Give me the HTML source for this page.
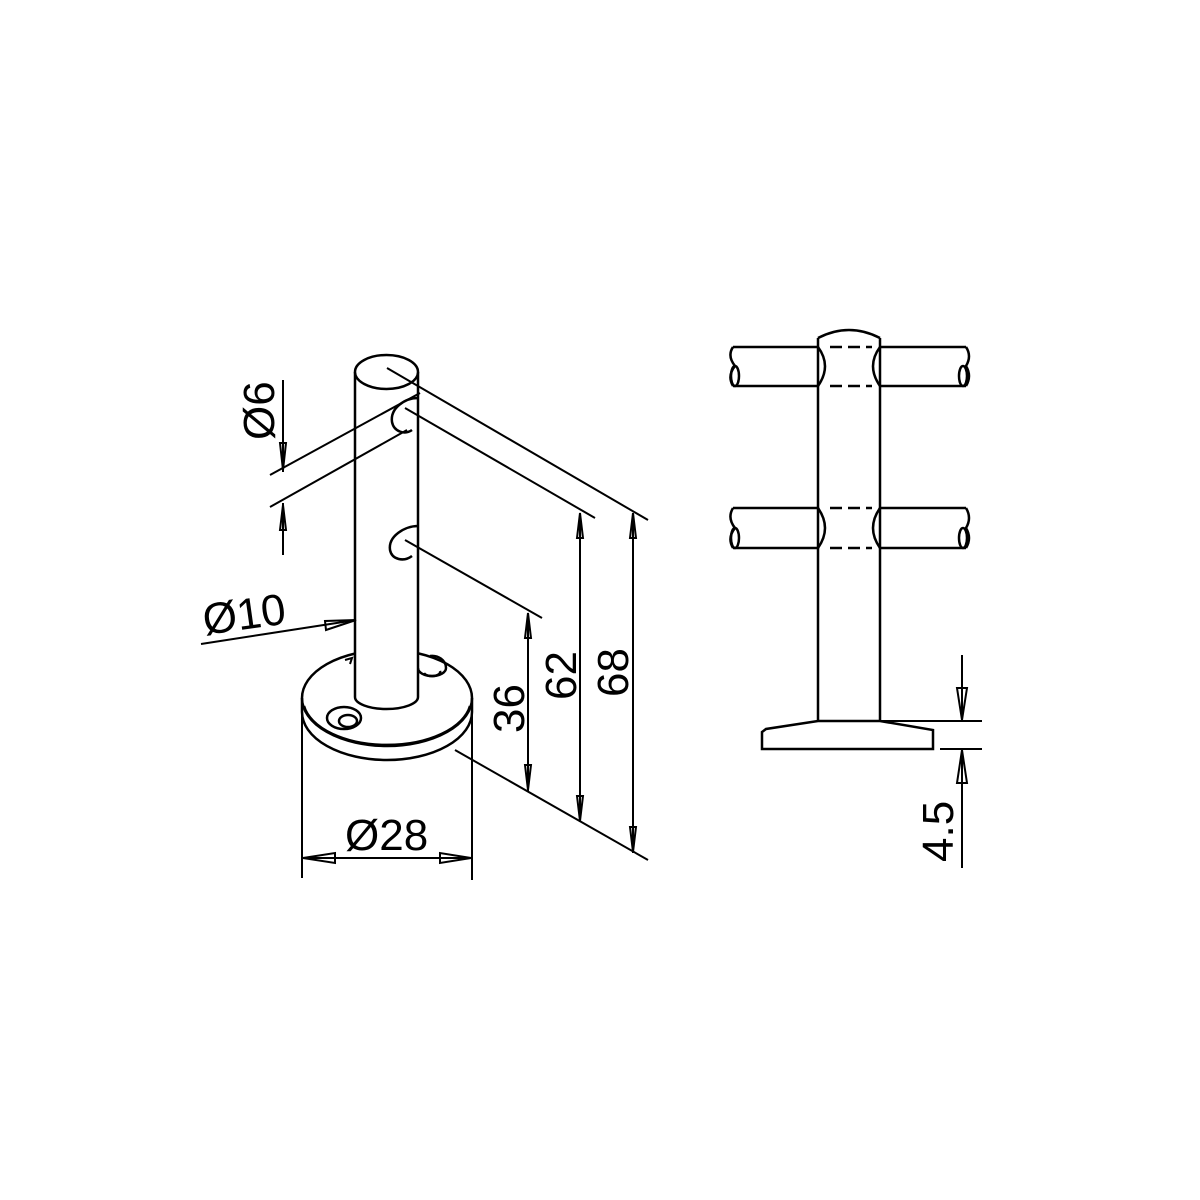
<!DOCTYPE html>
<html><head><style>html,body{margin:0;padding:0;background:#fff}svg{display:block}</style></head>
<body>
<svg width="1200" height="1200" viewBox="0 0 1200 1200" xmlns="http://www.w3.org/2000/svg">
<g fill="none" stroke="#000" stroke-width="2">
<!-- base -->
<g stroke-width="2.5">
<ellipse cx="387" cy="698" rx="85" ry="48" fill="#fff"/>
<path d="M302 698 L302 712 A85 48 0 0 0 472 712 L472 698"/>
<path d="M304 706 A84 46 0 0 0 470 706"/>
<ellipse cx="344" cy="718" rx="17" ry="11"/>
<ellipse cx="348" cy="721" rx="9" ry="6"/>
<path d="M418 668 A14 8 0 0 0 446 668 C446 660 438 655 430 656"/>
<path d="M424 673 A8 4 0 0 0 440 671"/>
</g>
<path d="M345 660 L352 658 L350 664"/>
<!-- post -->
<g stroke-width="2.5">
<path d="M355 372 L355 697 A31.5 12 0 0 0 418 697 L418 372 Z" fill="#fff" stroke="none"/>
<line x1="355" y1="372" x2="355" y2="697"/>
<line x1="418" y1="372" x2="418" y2="697"/>
<ellipse cx="386.5" cy="372" rx="31.5" ry="17" fill="#fff"/>
<path d="M355 697 A31.5 12 0 0 0 418 697"/>
<path d="M418 398 C405 398 390 408 392 422 C394 432 405 435 412 430"/>
<path d="M418 526 C405 526 388 536 390 550 C392 560 404 562 412 556"/>
</g>
<!-- extension lines -->
<line x1="387" y1="368" x2="648" y2="520"/>
<line x1="405" y1="408" x2="595" y2="518"/>
<line x1="405" y1="540" x2="542" y2="618"/>
<line x1="455" y1="750" x2="648" y2="860"/>
<line x1="270" y1="475" x2="420" y2="393"/>
<line x1="270" y1="507" x2="407" y2="430"/>
<!-- Ø6 -->
<line x1="283" y1="380" x2="283" y2="472"/>
<line x1="283" y1="503" x2="283" y2="555"/>
<path d="M280 443 L286 443 L283 470 Z"/>
<path d="M280 530 L286 530 L283 505 Z"/>
<!-- Ø10 -->
<line x1="201" y1="644" x2="356" y2="620"/>
<path d="M325 621 L326 630 L356 620 Z"/>
<!-- Ø28 -->
<line x1="302" y1="712" x2="302" y2="878"/>
<line x1="472" y1="712" x2="472" y2="880"/>
<line x1="302" y1="858" x2="472" y2="858"/>
<path d="M303 858 L335 853 L335 863 Z"/>
<path d="M471 858 L440 853 L440 863 Z"/>
<!-- 36/62/68 -->
<line x1="528" y1="613" x2="528" y2="792"/>
<line x1="580" y1="513" x2="580" y2="822"/>
<line x1="633" y1="513" x2="633" y2="853"/>
<path d="M528 613 L525 638 L531 638 Z"/>
<path d="M528 790 L525 765 L531 765 Z"/>
<path d="M580 513 L577 538 L583 538 Z"/>
<path d="M580 821 L577 796 L583 796 Z"/>
<path d="M633 513 L630 538 L636 538 Z"/>
<path d="M633 852 L630 827 L636 827 Z"/>
<!-- right view -->
<g stroke-width="2.5">
<path d="M818 338 Q849 322 880 338"/>
<line x1="818" y1="338" x2="818" y2="720"/>
<line x1="880" y1="338" x2="880" y2="720"/>
<path d="M733 347 L818 347 M880 347 L966 347 M733 386 L818 386 M880 386 L966 386"/>
<path d="M818 347 Q832 366 818 386 M880 347 Q866 366 880 386"/>
<path d="M733 347 Q727 356 735 366 Q727 376 733 386"/>
<ellipse cx="735" cy="376" rx="4" ry="10"/>
<path d="M966 347 Q972 356 966 366 Q972 376 966 386"/>
<ellipse cx="963" cy="376" rx="4" ry="10"/>
<path d="M733 508 L818 508 M880 508 L966 508 M733 548 L818 548 M880 548 L966 548"/>
<path d="M818 508 Q832 528 818 548 M880 508 Q866 528 880 548"/>
<path d="M733 508 Q727 518 735 528 Q727 538 733 548"/>
<ellipse cx="735" cy="538" rx="4" ry="10"/>
<path d="M966 508 Q972 518 966 528 Q972 538 966 548"/>
<ellipse cx="963" cy="538" rx="4" ry="10"/>
<path d="M818 721 L880 721 L933 730 L933 749 L762 749 L762 732 L766 729 Z"/>
</g>
<path d="M826 347 L872 347 M826 386 L872 386 M826 508 L872 508 M826 548 L872 548" stroke-width="2.5" stroke-dasharray="12 6" stroke-dashoffset="-4"/>
<!-- 4.5 -->
<line x1="880" y1="721" x2="982" y2="721"/>
<line x1="940" y1="749" x2="982" y2="749"/>
<line x1="962" y1="655" x2="962" y2="720"/>
<line x1="962" y1="750" x2="962" y2="868"/>
<path d="M962 720 L957 688 L967 688 Z"/>
<path d="M962 750 L957 783 L967 783 Z"/>
</g>
<g font-family="Liberation Sans, sans-serif" font-size="44" fill="#000">
<text transform="translate(274,440) rotate(-90)">Ø6</text>
<text transform="translate(205,635) rotate(-8)">Ø10</text>
<text x="345" y="850">Ø28</text>
<text transform="translate(524,733) rotate(-90)">36</text>
<text transform="translate(576,700) rotate(-90)">62</text>
<text transform="translate(628,697) rotate(-90)">68</text>
<text transform="translate(953,862) rotate(-90)">4.5</text>
</g>
</svg>
</body></html>
